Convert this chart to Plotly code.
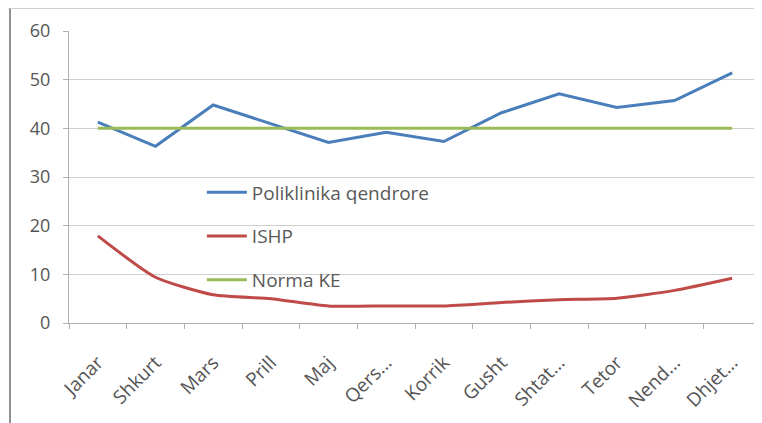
import plotly.graph_objects as go

months = ["Janar", "Shkurt", "Mars", "Prill", "Maj", "Qers...", "Korrik",
          "Gusht", "Shtat...", "Tetor", "Nend...", "Dhjet..."]
poliklinika = [41.3, 36.3, 44.8, 40.9, 37.1, 39.2, 37.3, 43.2, 47.1, 44.3, 45.7, 51.4]
ishp = [17.9, 9.4, 5.8, 5.0, 3.5, 3.5, 3.5, 4.2, 4.8, 5.1, 6.7, 9.2]
norma = [40, 40, 40, 40, 40, 40, 40, 40, 40, 40, 40, 40]
yticks = [0, 10, 20, 30, 40, 50, 60]

font = "Open Sans, Liberation Sans, sans-serif"
fig = go.Figure()
fig.add_trace(go.Scatter(x=months, y=poliklinika, mode="lines", name="Poliklinika qendrore",
                         line=dict(color="#4a7ebb", width=3), legendgroup="a"))
fig.add_trace(go.Scatter(x=months, y=ishp, mode="lines", name="ISHP",
                         line=dict(color="#be4b48", width=3, shape="spline", smoothing=0.6),
                         legendgroup="b"))
fig.add_trace(go.Scatter(x=months, y=norma, mode="lines", name="Norma KE",
                         line=dict(color="#9bbb59", width=3), legendgroup="c"))

PW, PH = 692, 292
L, T = 61, 23
fig.update_layout(
    width=754, height=415,
    margin=dict(l=L, r=1, t=T, b=100),
    paper_bgcolor="white", plot_bgcolor="white",
    font=dict(family=font, color="#595959", size=14),
    legend=dict(x=0.192, y=0.512, xanchor="left", yanchor="top",
                bgcolor="rgba(0,0,0,0)", font=dict(size=19, color="#595959"),
                tracegroupgap=16, traceorder="grouped", itemwidth=40),
    xaxis=dict(type="category", range=[-0.5, 11.5], tickangle=-45,
               showline=True, linecolor="#b0b0b0", linewidth=1,
               ticks="outside", tickson="boundaries", ticklen=5, tickcolor="#b0b0b0",
               ticklabelstandoff=20,
               showgrid=False, tickfont=dict(size=19, color="#555555")),
    yaxis=dict(range=[0, 60], tickvals=yticks, showline=True, linecolor="#b0b0b0",
               linewidth=1, ticks="outside", ticklen=5, tickcolor="#b0b0b0",
               ticklabelstandoff=9,
               gridcolor="#cfcfcf", gridwidth=1, zeroline=False,
               tickfont=dict(size=18, color="#555555")),
    shapes=[
        dict(type="line", xref="paper", yref="paper", x0=(2 - L) / PW, x1=(2 - L) / PW,
             y0=-100 / PH, y1=1 + T / PH, line=dict(color="#909090", width=2)),
        dict(type="line", xref="paper", yref="paper", x0=(2 - L) / PW, x1=1.01,
             y0=1 + T / PH, y1=1 + T / PH, line=dict(color="#d0d0d0", width=2)),
    ],
)
fig.write_html("out.html")
